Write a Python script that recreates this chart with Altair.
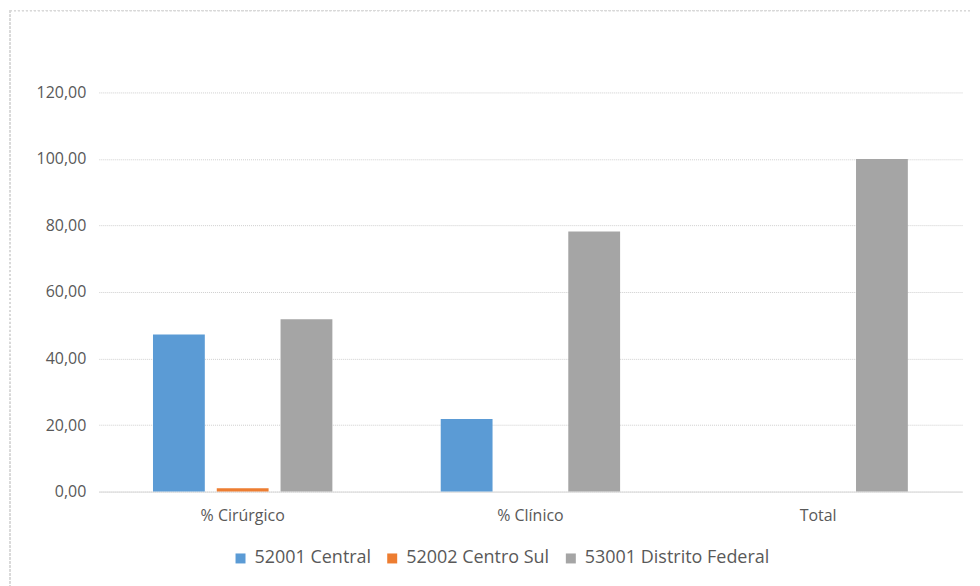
import altair as alt
import pandas as pd

categories = ["% Cirúrgico", "% Clínico", "Total"]
series = ["52001 Central", "52002 Centro Sul", "53001 Distrito Federal"]
central = [47.2, 21.8, 0.0]
centro_sul = [1.0, 0.0, 0.0]
distrito = [51.8, 78.2, 100.0]
colors = ["#5B9BD5", "#ED7D31", "#A5A5A5"]

rows = []
for vals, s in zip([central, centro_sul, distrito], series):
    for c, v in zip(categories, vals):
        rows.append({"cat": c, "serie": s, "valor": v})
df = pd.DataFrame(rows)

font = "Open Sans"
fs = 16

bars = alt.Chart(df).mark_bar().encode(
    x=alt.X("cat:N", sort=categories, title=None,
            scale=alt.Scale(paddingInner=0.335, paddingOuter=0.1675),
            axis=alt.Axis(labelAngle=0, ticks=False, domain=True, domainColor="#d9d9d9",
                          labelPadding=16, labelFont=font, labelFontSize=fs,
                          labelColor="#595959", grid=False)),
    xOffset=alt.XOffset("serie:N", sort=series,
                        scale=alt.Scale(paddingInner=0.1875, paddingOuter=0.09375)),
    y=alt.Y("valor:Q", title=None,
            scale=alt.Scale(domain=[0, 120]),
            axis=alt.Axis(values=[0, 20, 40, 60, 80, 100, 120],
                          labelExpr="replace(format(datum.value, '.2f'), '.', ',')",
                          domain=False, ticks=False, labelPadding=13,
                          labelFont=font, labelFontSize=fs, labelColor="#595959",
                          gridColor="#cfcfcf", gridDash=[1, 1], gridWidth=1)),
    color=alt.Color("serie:N", sort=series,
                    scale=alt.Scale(domain=series, range=colors),
                    legend=alt.Legend(title=None, orient="none", direction="horizontal",
                                      legendX=133, legendY=458,
                                      symbolType="square", symbolSize=100,
                                      symbolStrokeWidth=0, labelFont=font,
                                      labelFontSize=18, labelColor="#595959",
                                      labelLimit=0,
                                      columnPadding=12, labelOffset=5)),
)

frame = alt.Chart(df).mark_rect(fill=None, stroke="#d9d9d9", strokeDash=[2, 2],
                                clip=False, strokeWidth=1).encode(
    x=alt.value(-89), x2=alt.value(880), y=alt.value(-82), y2=alt.value(500)
)

chart = alt.layer(frame, bars).properties(
    width=865, height=400,
    background="white",
    autosize=alt.AutoSizeParams(type="none"),
    padding={"left": 91, "top": 84, "right": 10, "bottom": 94},
).configure_view(stroke=None)

chart.save("out.html", embed_options={"renderer": "svg", "actions": False})
